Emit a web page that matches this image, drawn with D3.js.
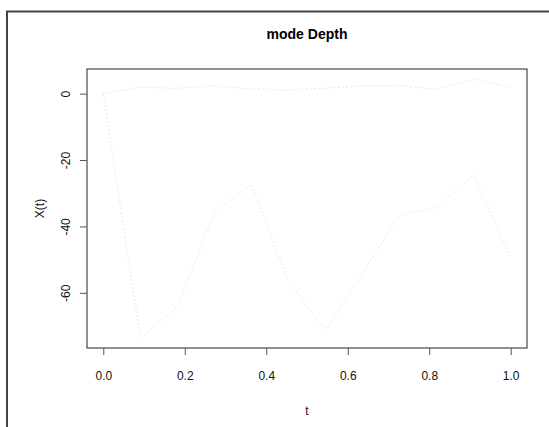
<!DOCTYPE html>
<html>
<head>
<meta charset="utf-8">
<script src="https://cdn.jsdelivr.net/npm/d3@7"></script>
<style>
  html, body { margin: 0; padding: 0; background: #fff; }
  svg { display: block; font-family: 'Liberation Sans', Arial, sans-serif; }
</style>
</head>
<body>
<div id="chart"></div>
<script>
// mode Depth — two traces X(t) over t, R base-graphics look.

const tValues = [0, 1/11, 2/11, 3/11, 4/11, 5/11, 6/11, 7/11, 8/11, 9/11, 10/11, 1];
const upperSeries = [0, 1.9, 1.6, 2.3, 1.4, 1.1, 1.6, 2.3, 2.5, 1.3, 4.3, 1.8];
const lowerSeries = [0, -73.5, -64.2, -35.8, -27.3, -56.5, -71.5, -54.0, -36.6, -34.3, -24.7, -49.1];
const xTicks = [0, 0.2, 0.4, 0.6, 0.8, 1.0];
const yTicks = [0, -20, -40, -60];

(function () {
  const W = 549, H = 427;
  const plot = { left: 87, right: 527, top: 69, bottom: 348 };

  const svg = d3.select('#chart').append('svg')
    .attr('width', W).attr('height', H);

  // outer device frame (only left + top visible in the reference)
  svg.append('path')
    .attr('d', `M7,${H} L7,11.5 L${W},11.5`)
    .attr('fill', 'none').attr('stroke', '#444').attr('stroke-width', 2);

  // R-style 4% axis extension
  const all = upperSeries.concat(lowerSeries);
  const yMin = d3.min(all), yMax = d3.max(all);
  const yPad = (yMax - yMin) * 0.04;
  const x = d3.scaleLinear().domain([-0.04, 1.04]).range([plot.left, plot.right]);
  const y = d3.scaleLinear().domain([yMin - yPad, yMax + yPad]).range([plot.bottom, plot.top]);

  const line = d3.line()
    .x((d, i) => x(tValues[i]))
    .y(d => y(d));

  [upperSeries, lowerSeries].forEach(s => {
    svg.append('path')
      .datum(s)
      .attr('d', line)
      .attr('fill', 'none')
      .attr('stroke', '#e2e2e2')
      .attr('stroke-width', 1)
      .attr('stroke-dasharray', '1.5,2.5');
  });

  // box
  svg.append('rect')
    .attr('x', plot.left).attr('y', plot.top)
    .attr('width', plot.right - plot.left).attr('height', plot.bottom - plot.top)
    .attr('fill', 'none').attr('stroke', '#222').attr('stroke-width', 1);

  // x axis
  const xAxis = svg.append('g')
    .attr('transform', `translate(0,${plot.bottom})`)
    .call(d3.axisBottom(x).tickValues(xTicks).tickFormat(d3.format('.1f'))
      .tickSizeInner(7).tickSizeOuter(0).tickPadding(16));
  xAxis.select('.domain').remove();
  xAxis.selectAll('line').attr('stroke', '#555');
  xAxis.selectAll('text')
    .attr('font-size', 12).attr('fill', '#111')
    .attr('font-family', "'Liberation Sans', Arial, sans-serif");

  // y axis (rotated labels like R las=0), plain hyphen minus as in R
  const yAxis = svg.append('g')
    .attr('transform', `translate(${plot.left},0)`)
    .call(d3.axisLeft(y).tickValues(yTicks).tickSizeInner(7).tickSizeOuter(0).tickFormat(d => String(d)));
  yAxis.select('.domain').remove();
  yAxis.selectAll('line').attr('stroke', '#555');
  yAxis.selectAll('text')
    .attr('x', null).attr('dy', null).attr('y', null)
    .attr('transform', 'translate(-17,0) rotate(-90)')
    .attr('text-anchor', 'middle')
    .attr('font-size', 12).attr('fill', '#111')
    .attr('font-family', "'Liberation Sans', Arial, sans-serif");

  // title + axis titles
  svg.append('text')
    .attr('x', (plot.left + plot.right) / 2).attr('y', 39)
    .attr('text-anchor', 'middle')
    .attr('font-size', 14).attr('font-weight', 'bold').attr('fill', '#000')
    .text('mode Depth');

  svg.append('text')
    .attr('x', (plot.left + plot.right) / 2).attr('y', 415)
    .attr('text-anchor', 'middle')
    .attr('font-size', 12).attr('fill', '#3a0d0d')
    .text('t');

  svg.append('text')
    .attr('transform', `translate(44,${(plot.top + plot.bottom) / 2}) rotate(-90)`)
    .attr('text-anchor', 'middle')
    .attr('font-size', 12).attr('fill', '#111')
    .text('X(t)');
})();
</script>
</body>
</html>
